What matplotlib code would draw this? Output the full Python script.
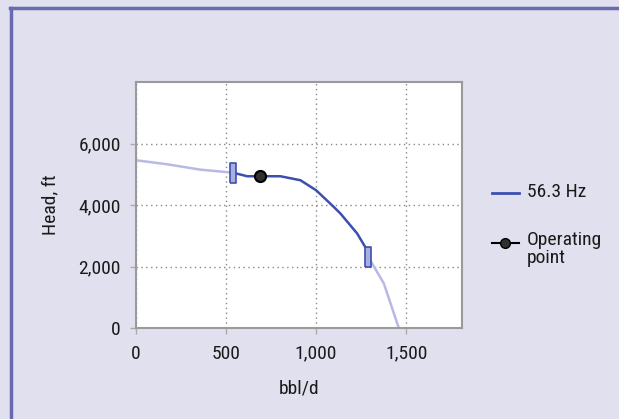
import numpy as np
import matplotlib.pyplot as plt
from matplotlib.lines import Line2D
from matplotlib.ticker import FuncFormatter

plt.rcParams['font.family'] = ['Roboto Condensed', 'DejaVu Sans']

# pump curve at 56.3 Hz
flow_left = [0, 172, 357, 540]
head_left = [5455, 5325, 5150, 5050]
flow_op = [540, 617, 802, 913, 1000, 1098, 1135, 1228, 1283, 1289]
head_op = [5050, 4935, 4935, 4805, 4480, 3938, 3723, 3073, 2532, 2315]
flow_right = [1289, 1376, 1459]
head_right = [2315, 1450, 0]
op_flow, op_head = 687, 4950
range_flow = [540, 1289]
range_head = [5050, 2315]

xticks = [0, 500, 1000, 1500]
yticks = [0, 2000, 4000, 6000]

bg = '#e1e0ef'
blue = '#3c4fae'
light = '#b9b9e6'
txt = '#1a1a1a'
fs = 14

fig = plt.figure(figsize=(6.19, 4.19), dpi=100, facecolor=bg)
ax = fig.add_axes([136 / 619, 91 / 419, 326 / 619, 246 / 419])
ax.set_facecolor('white')

ax.plot(flow_left, head_left, color=light, lw=1.8, solid_capstyle='butt')
ax.plot(flow_right, head_right, color=light, lw=1.8, solid_capstyle='butt')
ax.plot(flow_op, head_op, color=blue, lw=1.8)
box = [(-0.25, -1), (0.25, -1), (0.25, 1), (-0.25, 1), (-0.25, -1)]
ax.plot(range_flow, range_head, ls='none', marker=box, ms=15,
        mfc='#a9b0e0', mec=blue, mew=1.2)
ax.plot([op_flow], [op_head], ls='none', marker='o', ms=8,
        mfc='#303030', mec='black', mew=1.5, zorder=5)

ax.set_xlim(0, 1810)
ax.set_ylim(0, 8000)
ax.set_xticks(xticks)
ax.set_yticks(yticks)
ax.xaxis.set_major_formatter(FuncFormatter(lambda v, p: f'{int(v):,}'))
ax.yaxis.set_major_formatter(FuncFormatter(lambda v, p: f'{int(v):,}'))
ax.grid(True, color='#888888', ls=(0, (1, 2.5)), lw=1)
ax.tick_params(axis='both', colors='#aaaaaa', labelcolor=txt,
               labelsize=fs, length=4, width=1)
ax.tick_params(axis='y', pad=7)
ax.tick_params(axis='x', pad=8)
for s in ax.spines.values():
    s.set_color('#9a9a9a')
    s.set_linewidth(1.5)

ax.set_xlabel('bbl/d', fontsize=fs, color=txt, labelpad=12)
ax.set_ylabel('Head, ft', fontsize=fs, color=txt, labelpad=14)

# legend drawn by hand to the right of the plot
fig.add_artist(Line2D([492 / 619, 519 / 619], [1 - 193 / 419] * 2,
                      color=blue, lw=2))
fig.text(527 / 619, 1 - 192 / 419, '56.3 Hz', fontsize=fs, va='center',
         color=txt)
fig.add_artist(Line2D([492 / 619, 519 / 619], [1 - 243 / 419] * 2,
                      color='black', lw=1.5))
fig.add_artist(Line2D([505 / 619], [1 - 243 / 419], marker='o', ms=7,
                      mfc='#303030', mec='black'))
fig.text(527 / 619, 1 - 249 / 419, 'Operating\npoint', fontsize=fs,
         va='center', color=txt, linespacing=1.05)

# panel frame: left and top border
frame = '#6a6ab0'
fig.add_artist(Line2D([11 / 619, 11 / 619], [0, 1 - 8 / 419], color=frame, lw=2.5))
fig.add_artist(Line2D([10 / 619, 1], [1 - 8 / 419] * 2, color=frame, lw=2.5))

fig.savefig('out.png', dpi=100, facecolor=bg)
